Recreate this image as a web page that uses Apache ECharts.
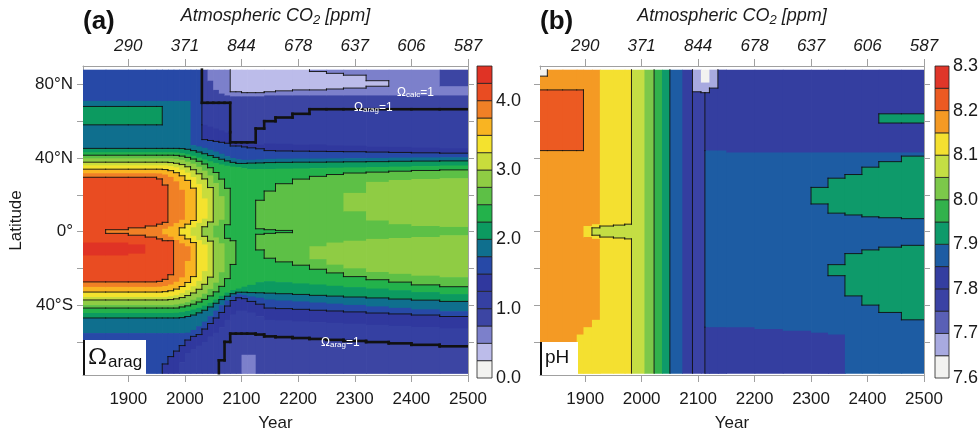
<!DOCTYPE html>
<html>
<head>
<meta charset="utf-8">
<script src="https://cdn.jsdelivr.net/npm/echarts@6/dist/echarts.min.js"></script>
<style>
  html, body { margin: 0; background: #fff; }
  #main { width: 980px; height: 431px; }
</style>
</head>
<body>
<div id="main"></div>
<script>
  // ---- axes ----
  const yearTicks = [1900, 2000, 2100, 2200, 2300, 2400, 2500]
  const co2Labels = ['290', '371', '844', '678', '637', '606', '587']
  const latTicks = [-60, -40, -20, 0, 20, 40, 60, 80]
  const latLabels = [-40, 0, 40, 80]

  // ---- colour scales ----
  const omegaLevels = [0, 0.25, 0.5, 0.75, 1, 1.25, 1.5, 1.75, 2, 2.25, 2.5, 2.75, 3, 3.25, 3.5, 3.75, 4, 4.25, 4.5]
  const omegaColors = ['#f2f2f0', '#bcbcea', '#7c80cb', '#3c45a3', '#3540a2', '#30389e', '#2749a7', '#0f6f8e',
    '#0c9a60', '#23b24b', '#5dc046', '#8fcc44', '#c8dc3c', '#f4e22e', '#f9b422', '#f08026', '#e94c22', '#e03325']
  const phLevels = [7.6, 7.65, 7.7, 7.75, 7.8, 7.85, 7.9, 7.95, 8.0, 8.05, 8.1, 8.15, 8.2, 8.25, 8.3]
  const phColors = ['#f2f2f0', '#a8aae0', '#5a60b6', '#3a42a4', '#343ea0', '#1d5ca3', '#0e9a6a', '#32b24c',
    '#7cc84a', '#c4de44', '#f4e030', '#f49a24', '#ec5a22', '#e0362a']

  // ---- (a) aragonite saturation: column edges (years), each column = [latTop, value, latTop, value, ...] north to south ----
  const omegaYears = [1820, 1860, 1900, 1930, 1950, 1960, 1970, 1980, 1990, 2000, 2010, 2020, 2030, 2040, 2050, 2060,
    2070, 2080, 2090, 2100, 2110, 2125, 2140, 2160, 2190, 2220, 2250, 2280, 2320, 2360, 2400, 2450, 2500]
  const omegaCols = [
    [88,1.6, 71,1.9, 68,2.1, 58,1.9, 45.2,2.1, 43.1,2.4, 41.5,2.6, 39.8,2.9, 37.7,3.1, 36,3.4, 33.9,3.6, 31.7,3.9, 29.5,4.1, -6,4.4, -13,4.1, -27.4,3.9, -30.1,3.6, -32.9,3.4, -35.6,3.1, -37.2,2.9, -40,2.6, -41.6,2.4, -44.3,2.1, -47,1.9, -55.2,1.6],
    [88,1.6, 71,1.9, 68,2.1, 58,1.9, 45.2,2.1, 43.1,2.4, 41.5,2.6, 39.8,2.9, 37.7,3.1, 36,3.4, 33.9,3.6, 31.7,3.9, 29.5,4.1, 1,3.9, -1,4.1, -6,4.4, -13,4.1, -27.4,3.9, -30.1,3.6, -32.9,3.4, -35.6,3.1, -37.2,2.9, -40,2.6, -41.6,2.4, -44.3,2.1, -47,1.9, -55.2,1.6],
    [88,1.6, 71,1.9, 68,2.1, 58,1.9, 45.2,2.1, 43.1,2.4, 41.5,2.6, 39.8,2.9, 37.7,3.1, 36,3.4, 33.9,3.6, 31.7,3.9, 29.5,4.1, 2,3.9, -2,4.1, -7,4.4, -12,4.1, -27.4,3.9, -30.1,3.6, -32.9,3.4, -35.6,3.1, -37.2,2.9, -40,2.6, -41.6,2.4, -44.3,2.1, -47,1.9, -55.2,1.6],
    [88,1.6, 71,1.9, 68,2.1, 58,1.9, 45.2,2.1, 43.1,2.4, 41.5,2.6, 39.8,2.9, 37.7,3.1, 36,3.4, 33.9,3.6, 31.7,3.9, 29.5,4.1, 3,3.9, -3,4.1, -27.4,3.9, -30.1,3.6, -32.9,3.4, -35.6,3.1, -37.2,2.9, -40,2.6, -41.6,2.4, -44.3,2.1, -47,1.9, -55.2,1.6],
    [88,1.6, 71,1.9, 68,2.1, 58,1.9, 45.2,2.1, 43.1,2.4, 41.5,2.6, 39.8,2.9, 37.7,3.1, 36,3.4, 33.9,3.6, 31.6,3.9, 28.6,4.1, 4,3.9, -4,4.1, -27.1,3.9, -30,3.6, -32.9,3.4, -35.6,3.1, -37.2,2.9, -40,2.6, -41.6,2.4, -44.3,2.1, -47,1.9, -55.2,1.6],
    [88,1.6, 71,1.9, 45.2,2.1, 43.1,2.4, 41.5,2.6, 39.8,2.9, 37.7,3.1, 36,3.4, 33.7,3.6, 31,3.9, 25.3,4.1, 5,3.9, 1.5,3.6, -1.5,3.9, -5,4.1, -26,3.9, -29.6,3.6, -32.7,3.4, -35.6,3.1, -37.2,2.9, -40,2.6, -41.6,2.4, -44.3,2.1, -47,1.9, -55.2,1.6, -72,1.4],
    [88,1.6, 71,1.9, 45.2,2.1, 43.1,2.4, 41.5,2.6, 39.8,2.9, 37.5,3.1, 35.6,3.4, 33.1,3.6, 29.7,3.9, 2.8,3.6, -2.8,3.9, -5,4.1, -23.5,3.9, -28.8,3.6, -32.2,3.4, -35.2,3.1, -37,2.9, -40,2.6, -41.6,2.4, -44.3,2.1, -47,1.9, -55.2,1.6, -68,1.4],
    [88,1.6, 71,1.9, 45.2,2.1, 43,2.4, 41.4,2.6, 39.5,2.9, 37.1,3.1, 34.9,3.4, 32,3.6, 27.3,3.9, 4.6,3.6, -4.6,3.9, -27.3,3.6, -31.3,3.4, -34.6,3.1, -36.6,2.9, -39.7,2.6, -41.6,2.4, -44.2,2.1, -47,1.9, -55.2,1.6, -65,1.4],
    [88,1.6, 71,1.9, 45.1,2.1, 42.6,2.4, 41,2.6, 39,2.9, 36.4,3.1, 33.6,3.4, 30.3,3.6, 22.7,3.9, 6.4,3.6, 2,3.4, -2,3.6, -6.4,3.9, -24.9,3.6, -29.9,3.4, -33.5,3.1, -35.9,2.9, -39.2,2.6, -41,2.4, -43.8,2.1, -46.8,1.9, -55.2,1.6, -62,1.4, -71,1.1],
    [88,1.6, 71,1.9, 44.7,2.1, 42,2.4, 40.3,2.6, 38,2.9, 35.2,3.1, 32,3.4, 27.8,3.6, 4,3.4, -4,3.6, -8,3.9, -16,3.6, -27.7,3.4, -31.9,3.1, -34.8,2.9, -38.4,2.6, -40.4,2.4, -43.2,2.1, -46.2,1.9, -55,1.6, -59,1.4, -66,1.1],
    [88,1.6, 47,1.9, 44,2.1, 41.2,2.4, 39.4,2.6, 36.9,2.9, 33.6,3.1, 29.6,3.4, 23.6,3.6, 6,3.4, 2.3,3.1, -2.3,3.4, -6,3.6, -24.5,3.4, -29.8,3.1, -33.4,2.9, -37.1,2.6, -39.5,2.4, -42.4,2.1, -45.4,1.9, -53.5,1.6, -57,1.4, -64,1.1],
    [88,1.6, 46.3,1.9, 43.2,2.1, 40.2,2.4, 38.2,2.6, 35.2,2.9, 31.4,3.1, 25.8,3.4, 4.7,3.1, -4.7,3.4, -26.8,3.1, -31.4,2.9, -35.8,2.6, -38.3,2.4, -41.5,2.1, -44.2,1.9, -51.5,1.6, -56,1.4, -62,1.1],
    [88,0.9, 70,1.1, 58,1.4, 50,1.6, 45.5,1.9, 42.3,2.1, 39.2,2.4, 36.7,2.6, 33.1,2.9, 28.6,3.1, 18,3.4, 7,3.1, 2.6,2.9, -2.6,3.1, -7,3.4, -21.5,3.1, -28.7,2.9, -33.8,2.6, -36.9,2.4, -40.3,2.1, -42.8,1.9, -49,1.6, -53,1.4, -60,1.1],
    [88,0.6, 82,0.9, 70,1.1, 57,1.4, 49.5,1.6, 44.5,1.9, 41.3,2.1, 38.2,2.4, 34.7,2.6, 30.5,2.9, 23.9,3.1, 5.2,2.9, -5.2,3.1, -24.8,2.9, -31.2,2.6, -35,2.4, -38.8,2.1, -41,1.9, -46,1.6, -50,1.4, -57,1.1],
    [88,0.6, 77,0.9, 70,1.1, 56,1.4, 49,1.6, 43.5,1.9, 40.3,2.1, 37.3,2.4, 32.1,2.6, 26.4,2.9, 3.2,2.6, -3.2,2.9, -27.8,2.6, -32.8,2.4, -37,2.1, -39,1.9, -43,1.6, -47,1.4, -55,1.1],
    [88,0.6, 75,0.9, 70,1.1, 55,1.4, 48.5,1.6, 42.3,1.9, 39.3,2.1, 36.5,2.4, 28.5,2.6, 19.2,2.9, 6.4,2.6, -6.4,2.9, -22.1,2.6, -29.8,2.4, -35,2.1, -37,1.9, -40,1.6, -44,1.4, -52,1.1, -70,0.9],
    [88,0.6, 74,0.9, 70,1.1, 54,1.4, 48,1.6, 41,1.9, 38.4,2.1, 35.8,2.4, 23.5,2.6, 3.7,2.4, -3.7,2.6, -25.6,2.4, -33.2,2.1, -35.2,1.9, -37.5,1.6, -40.5,1.4, -48,1.1, -60,0.9],
    [88,0.4, 76,0.6, 73.5,0.9, 48.5,1.1, 47.5,1.4, 46.5,1.6, 40,1.9, 37.6,2.1, 35.3,2.4, -5,2.6, -17.9,2.4, -31.8,2.1, -33.8,1.9, -35,1.6, -37.5,1.4, -45,1.1, -55.5,0.9],
    [88,0.4, 76,0.6, 73.5,0.9, 48.5,1.1, 47.5,1.4, 46.5,1.6, 39.3,1.9, 37,2.1, 35,2.4, -31,2.1, -33,1.9, -34,1.6, -36,1.4, -43,1.1, -55.5,0.9],
    [88,0.4, 75.5,0.6, 73.5,0.9, 48.5,1.1, 47.5,1.4, 46,1.6, 39,1.9, 37,2.1, 34.5,2.4, -30,2.1, -33,1.9, -34.5,1.6, -36.5,1.4, -43,1.1, -55.5,0.9, -67,0.6],
    [88,0.4, 75.5,0.6, 73.5,0.9, 48.5,1.1, 47.5,1.4, 45.5,1.6, 39,1.9, 37.2,2.1, 34,2.4, -29,2.1, -33.2,1.9, -35.3,1.6, -38,1.4, -44,1.1, -55.5,0.9, -67,0.6],
    [88,0.4, 75.5,0.6, 73.5,0.9, 56,1.1, 47.5,1.4, 45,1.6, 39.2,1.9, 37.3,2.1, 34,2.4, 17,2.6, 1.5,2.4, -1.5,2.6, -10,2.4, -27.5,2.1, -33.3,1.9, -36,1.6, -39.5,1.4, -46,1.1, -56,0.9],
    [88,0.4, 76,0.6, 74,0.9, 60,1.1, 48,1.4, 44,1.6, 39.5,1.9, 37.5,2.1, 34,2.4, 22,2.6, 1,2.4, -1,2.6, -14.5,2.4, -27,2.1, -33.5,1.9, -37,1.6, -41.6,1.4, -48,1.1, -57,0.9],
    [88,0.4, 76.5,0.6, 74,0.9, 62,1.1, 47.7,1.4, 43.8,1.6, 39.6,1.9, 37.6,2.1, 34.2,2.4, 26,2.6, 0.6,2.4, -0.6,2.6, -16.5,2.4, -27.5,2.1, -33.8,1.9, -37.5,1.6, -41.9,1.4, -48.3,1.1, -57.4,0.9],
    [88,0.4, 77,0.6, 74,0.9, 64,1.1, 47.5,1.4, 43.7,1.6, 39.7,1.9, 37.7,2.1, 34.3,2.4, 28.5,2.6, -18.3,2.4, -28.2,2.1, -34.2,1.9, -38,1.6, -42.3,1.4, -48.8,1.1, -57.9,0.9],
    [88,0.6, 87,0.4, 77,0.6, 74,0.9, 66.5,1.1, 47.3,1.4, 43.6,1.6, 39.7,1.9, 37.7,2.1, 34.5,2.4, 30,2.6, -8,2.9, -15,2.6, -20.5,2.4, -28.8,2.1, -34.7,1.9, -38.6,1.6, -42.8,1.4, -49.2,1.1, -58.4,0.9],
    [88,0.6, 86,0.4, 77.5,0.6, 74,0.9, 66.5,1.1, 47,1.4, 43.5,1.6, 39.8,1.9, 37.8,2.1, 34.7,2.4, 31,2.6, -6,2.9, -18,2.6, -22.5,2.4, -29.5,2.1, -35.1,1.9, -39.2,1.6, -43.2,1.4, -49.6,1.1, -58.9,0.9],
    [88,0.6, 85,0.4, 78,0.6, 74,0.9, 66.5,1.1, 46.7,1.4, 43.4,1.6, 39.9,1.9, 37.9,2.1, 34.9,2.4, 31.8,2.6, 21,2.9, 11,2.6, -5,2.9, -20,2.6, -24.5,2.4, -30.2,2.1, -35.6,1.9, -39.9,1.6, -43.7,1.4, -50.1,1.1, -59.5,0.9],
    [88,0.6, 82,0.4, 79,0.6, 74,0.9, 66.5,1.1, 46.4,1.4, 43.2,1.6, 40,1.9, 38,2.1, 35.1,2.4, 32.3,2.6, 27,2.9, 6,2.6, -4,2.9, -22,2.6, -26.2,2.4, -31,2.1, -36.1,1.9, -40.7,1.6, -44.3,1.4, -50.7,1.1, -60.1,0.9],
    [88,0.6, 74,0.9, 66.5,1.1, 46,1.4, 43,1.6, 40.2,1.9, 38.2,2.1, 35.3,2.4, 32.8,2.6, 28,2.9, 4,2.6, -3.5,2.9, -23,2.6, -27.5,2.4, -31.9,2.1, -36.7,1.9, -41.5,1.6, -44.8,1.4, -51.3,1.1, -60.8,0.9],
    [88,0.6, 74,0.9, 66.5,1.1, 45.6,1.4, 42.8,1.6, 40.3,1.9, 38.3,2.1, 35.6,2.4, 33.2,2.6, 28.5,2.9, 3,2.6, -3,2.9, -24,2.6, -29,2.4, -32.9,2.1, -37.3,1.9, -42.3,1.6, -45.4,1.4, -51.9,1.1, -61.6,0.9],
    [88,0.9, 79,0.6, 74,0.9, 66.5,1.1, 45.2,1.4, 42.6,1.6, 40.4,1.9, 38.4,2.1, 35.9,2.4, 33.5,2.6, 29,2.9, 2.5,2.6, -2,2.9, -24.8,2.6, -30,2.4, -34,2.1, -38,1.9, -43.3,1.6, -46.2,1.4, -52.6,1.1, -62.4,0.9]
  ]

  // ---- (b) surface pH ----
  const phYears = [1820, 1833, 1860, 1885, 1897, 1912, 1926, 1950, 1970, 1982, 2005, 2022, 2036, 2050, 2072, 2090,
    2105, 2112, 2120, 2135, 2150, 2200, 2250, 2300, 2330, 2360, 2390, 2420, 2460, 2500]
  const phCols = [
    [88,7.62, 84.5,8.17, 77,8.22, 44,8.17],
    [88,8.17, 77,8.22, 44,8.17],
    [88,8.17, 77,8.22, 44,8.17],
    [88,8.17, 77,8.22, 44,8.17, -56,8.12],
    [88,8.17, 3,8.12, -3,8.17, -52,8.12],
    [88,8.17, 4,8.12, 2,8.07, -2,8.12, -4,8.17, -48,8.12],
    [88,8.12, 3,8.07, -3,8.12],
    [88,8.12, 3.5,8.07, -3.5,8.12],
    [88,8.12, 4,8.07, -4,8.12],
    [88,8.07],
    [88,8.02],
    [88,7.97],
    [88,7.92],
    [88,7.87],
    [88,7.82],
    [88,7.67, 76,7.77],
    [88,7.62, 81,7.67, 75.5,7.77],
    [88,7.62, 81,7.67, 75.5,7.82, 44,7.87, -52,7.82],
    [88,7.67, 78,7.82, 44,7.87, -52,7.82],
    [88,7.82, 44,7.87, -52,7.82],
    [88,7.82, 43,7.87, -52,7.82],
    [88,7.82, 43,7.87, -53,7.82],
    [88,7.82, 43,7.87, -54,7.82],
    [88,7.82, 43,7.87, 24,7.92, 15,7.87, -55,7.82],
    [88,7.82, 43,7.87, 29,7.92, 10,7.87, -18,7.92, -24,7.87, -56,7.82],
    [88,7.82, 43,7.87, 31,7.92, 9,7.87, -12,7.92, -35,7.87],
    [88,7.82, 43,7.87, 35,7.92, 8,7.87, -10,7.92, -40,7.87],
    [88,7.82, 64,7.92, 59,7.82, 43,7.87, 38,7.92, 7.5,7.87, -8.5,7.92, -44,7.87],
    [88,7.82, 64,7.92, 59,7.82, 43,7.87, 41,7.92, 7,7.87, -7.5,7.92, -48,7.87]
  ]

  const LAT_TOP = 88
  const LAT_BOTTOM = -77

  function colorFor(levels, colors, v) {
    for (let i = 0; i < colors.length; i++) {
      if (v < levels[i + 1]) return colors[i]
    }
    return colors[colors.length - 1]
  }

  function valueAt(col, lat) {
    let v = col[1]
    for (let k = 0; k < col.length; k += 2) {
      if (col[k] >= lat) v = col[k + 1]
      else break
    }
    return v
  }

  function fillItem(years, cols, levels, colors) {
    return function (params, api) {
      const i = params.dataIndex
      const col = cols[i]
      const children = []
      for (let k = 0; k < col.length; k += 2) {
        const top = col[k]
        const bot = k + 2 < col.length ? col[k + 2] : LAT_BOTTOM
        const p0 = api.coord([years[i], top])
        const p1 = api.coord([years[i + 1], bot])
        children.push({
          type: 'rect',
          shape: { x: p0[0], y: p0[1], width: p1[0] - p0[0] + 0.7, height: p1[1] - p0[1] + 0.7 },
          style: { fill: colorFor(levels, colors, col[k + 1]) }
        })
      }
      return { type: 'group', children: children }
    }
  }

  // contour lines come from the same columns: a line wherever the contour class changes
  function lineItem(years, cols, step, thickAt) {
    const cls = (v) => Math.floor(v / step + 1e-9)
    const isThick = (a, b) => thickAt != null && ((a < thickAt) !== (b < thickAt))
    return function (params, api) {
      const i = params.dataIndex
      const col = cols[i]
      const children = []
      const push = (a, b, thick) => {
        children.push({
          type: 'line',
          shape: { x1: a[0], y1: a[1], x2: b[0], y2: b[1] },
          style: { stroke: '#111', lineWidth: thick ? 2.6 : 0.9, lineCap: 'square' }
        })
      }
      for (let k = 2; k < col.length; k += 2) {
        const a = col[k - 1], b = col[k + 1]
        if (cls(a) !== cls(b)) {
          push(api.coord([years[i], col[k]]), api.coord([years[i + 1], col[k]]), isThick(a, b))
        }
      }
      if (i > 0) {
        const prev = cols[i - 1]
        const cuts = [LAT_TOP, LAT_BOTTOM]
        for (let k = 0; k < prev.length; k += 2) cuts.push(prev[k])
        for (let k = 0; k < col.length; k += 2) cuts.push(col[k])
        const s = Array.from(new Set(cuts)).sort((p, q) => q - p)
        for (let j = 0; j + 1 < s.length; j++) {
          const mid = (s[j] + s[j + 1]) / 2
          const a = valueAt(prev, mid), b = valueAt(col, mid)
          if (cls(a) !== cls(b)) {
            push(api.coord([years[i], s[j]]), api.coord([years[i], s[j + 1]]), isThick(a, b))
          }
        }
      }
      return { type: 'group', children: children }
    }
  }

  function barItem(levels, colors) {
    return function (params, api) {
      const i = params.dataIndex
      const p0 = api.coord([0, levels[i + 1]])
      const p1 = api.coord([1, levels[i]])
      return {
        type: 'rect',
        shape: { x: p0[0], y: p0[1], width: p1[0] - p0[0], height: p1[1] - p0[1] },
        style: { fill: colors[i], stroke: '#222', lineWidth: 0.8 }
      }
    }
  }

  const font = 'Liberation Sans, Arial, sans-serif'
  const gray = '#a0a0a0'

  function yearAxis(gridIndex, top) {
    return {
      type: 'value', gridIndex: gridIndex, position: top ? 'top' : 'bottom',
      min: 1820, max: 2500,
      axisLine: { show: true, onZero: false, lineStyle: { color: gray, width: 1 } },
      axisTick: { show: true, length: 7, customValues: yearTicks, lineStyle: { color: gray } },
      splitLine: { show: false },
      axisLabel: top
        ? { customValues: yearTicks, margin: 11, fontSize: 17, fontStyle: 'italic', color: '#1a1a1a', fontFamily: font,
            formatter: (v) => co2Labels[yearTicks.indexOf(v)] }
        : { customValues: yearTicks, margin: 16, fontSize: 17, color: '#1a1a1a', fontFamily: font,
            formatter: (v) => String(v) },
      name: top ? '{t|Atmospheric CO}{s|2}{t| [ppm]}' : 'Year',
      nameLocation: 'middle',
      nameGap: top ? 39 : 40,
      nameTextStyle: top
        ? { rich: {
              t: { fontSize: 18, fontStyle: 'italic', fontFamily: font, color: '#1a1a1a', lineHeight: 22 },
              s: { fontSize: 13, fontStyle: 'italic', fontFamily: font, color: '#1a1a1a', lineHeight: 22, padding: [9, 0, 0, 0] }
            } }
        : { fontSize: 17, color: '#1a1a1a', fontFamily: font }
    }
  }

  function latAxis(gridIndex, right, labelled) {
    return {
      type: 'value', gridIndex: gridIndex, position: right ? 'right' : 'left',
      min: -78, max: 90,
      axisLine: { show: true, onZero: false, lineStyle: { color: gray, width: 1 } },
      axisTick: { show: true, length: 6, customValues: latTicks, lineStyle: { color: gray } },
      splitLine: { show: false },
      axisLabel: labelled
        ? { customValues: latLabels, margin: 10, fontSize: 17, color: '#1a1a1a', fontFamily: font,
            formatter: (v) => v === 0 ? '0°' : (v > 0 ? v + '°N' : (-v) + '°S') }
        : { show: false },
      name: labelled ? 'Latitude' : '',
      nameLocation: 'middle', nameGap: 58, nameRotate: 90,
      nameTextStyle: { fontSize: 17, color: '#1a1a1a', fontFamily: font }
    }
  }

  function barAxis(gridIndex, levels, labels, fmt) {
    return {
      type: 'value', gridIndex: gridIndex, position: 'right',
      min: levels[0], max: levels[levels.length - 1],
      axisLine: { show: false }, axisTick: { show: false }, splitLine: { show: false },
      axisLabel: { customValues: labels, margin: 4, fontSize: 18, color: '#1a1a1a', fontFamily: font, formatter: fmt }
    }
  }

  const chart = echarts.init(document.getElementById('main'), null, { renderer: 'canvas' })

  const omegaIdx = omegaCols.map((c, i) => [omegaYears[i], omegaYears[i + 1]])
  const phIdx = phCols.map((c, i) => [phYears[i], phYears[i + 1]])
  const omegaBar = omegaColors.map((c, i) => [0, omegaLevels[i]])
  const phBar = phColors.map((c, i) => [0, phLevels[i]])

  const small = {
    o: { fontSize: 12, fontFamily: font, fill: '#fff' },
    s: { fontSize: 8, fontFamily: font, fill: '#fff', padding: [4, 0, 0, 0] }
  }

  const gridBase = { containLabel: false, outerBoundsMode: 'none' }

  chart.setOption({
    animation: false,
    backgroundColor: '#fff',
    grid: [
      Object.assign({ left: 83, top: 66, width: 385, height: 309 }, gridBase),
      Object.assign({ left: 477, top: 66, width: 15, height: 312 }, gridBase),
      Object.assign({ left: 540, top: 66, width: 384, height: 309 }, gridBase),
      Object.assign({ left: 935, top: 66, width: 14, height: 312 }, gridBase)
    ],
    xAxis: [
      yearAxis(0, false), yearAxis(0, true),
      yearAxis(2, false), yearAxis(2, true),
      { type: 'value', gridIndex: 1, min: 0, max: 1, show: false },
      { type: 'value', gridIndex: 3, min: 0, max: 1, show: false }
    ],
    yAxis: [
      latAxis(0, false, true), latAxis(0, true, false),
      latAxis(2, false, false), latAxis(2, true, false),
      barAxis(1, omegaLevels, [0, 1, 2, 3, 4], (v) => v.toFixed(1)),
      barAxis(3, phLevels, [7.6, 7.7, 7.8, 7.9, 8.0, 8.1, 8.2, 8.3], (v) => v.toFixed(1))
    ],
    series: [
      { type: 'custom', xAxisIndex: 0, yAxisIndex: 0, data: omegaIdx, clip: true,
        renderItem: fillItem(omegaYears, omegaCols, omegaLevels, omegaColors), z: 1 },
      { type: 'custom', xAxisIndex: 0, yAxisIndex: 0, data: omegaIdx, clip: true,
        renderItem: lineItem(omegaYears, omegaCols, 0.5, 1.0), z: 2 },
      { type: 'custom', xAxisIndex: 2, yAxisIndex: 2, data: phIdx, clip: true,
        renderItem: fillItem(phYears, phCols, phLevels, phColors), z: 1 },
      { type: 'custom', xAxisIndex: 2, yAxisIndex: 2, data: phIdx, clip: true,
        renderItem: lineItem(phYears, phCols, 0.1, null), z: 2 },
      { type: 'custom', xAxisIndex: 4, yAxisIndex: 4, data: omegaBar, renderItem: barItem(omegaLevels, omegaColors) },
      { type: 'custom', xAxisIndex: 5, yAxisIndex: 5, data: phBar, renderItem: barItem(phLevels, phColors) }
    ],
    graphic: [
      { type: 'text', left: 83, top: 9, style: { text: '(a)', fontSize: 26, fontWeight: 'bold', fontFamily: font, fill: '#111' } },
      { type: 'text', left: 540, top: 9, style: { text: '(b)', fontSize: 26, fontWeight: 'bold', fontFamily: font, fill: '#111' } },
      // label boxes
      { type: 'rect', shape: { x: 84, y: 340, width: 62, height: 34 }, style: { fill: '#fff' }, z: 10 },
      { type: 'rect', shape: { x: 83, y: 340, width: 2, height: 35 }, style: { fill: '#111' }, z: 11 },
      { type: 'text', x: 88, y: 345, style: { text: '{o|Ω}{s|arag}', fill: '#111',
          rich: { o: { fontSize: 23, fontFamily: 'DejaVu Serif, serif', fill: '#111' },
                  s: { fontSize: 17, fontFamily: font, fill: '#111', padding: [9, 0, 0, 1] } } }, z: 12 },
      { type: 'rect', shape: { x: 541, y: 342, width: 37, height: 32 }, style: { fill: '#fff' }, z: 10 },
      { type: 'rect', shape: { x: 540, y: 342, width: 2, height: 33 }, style: { fill: '#111' }, z: 11 },
      { type: 'text', x: 545, y: 348, style: { text: 'pH', fontSize: 19, fontFamily: font, fill: '#111' }, z: 12 },
      // in-plot annotations
      { type: 'text', x: 397, y: 87, style: { text: '{o|Ω}{s|calc}{o|=1}', rich: small }, z: 12 },
      { type: 'text', x: 354, y: 102, style: { text: '{o|Ω}{s|arag}{o|=1}', rich: small }, z: 12 },
      { type: 'text', x: 321, y: 337, style: { text: '{o|Ω}{s|arag}{o|=1}', rich: small }, z: 12 }
    ]
  })
</script>
</body>
</html>
